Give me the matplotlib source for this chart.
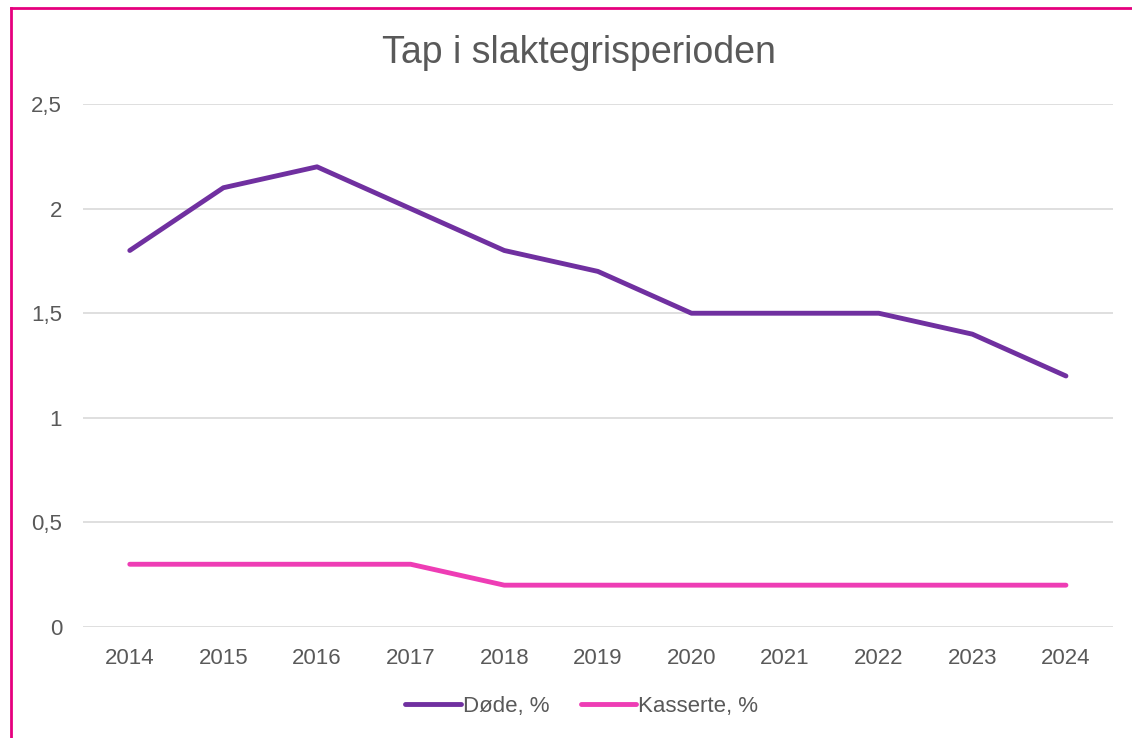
import matplotlib.pyplot as plt
from matplotlib.lines import Line2D

plt.rcParams['font.family'] = ['Liberation Sans', 'DejaVu Sans']

# Data
years = [2014, 2015, 2016, 2017, 2018, 2019, 2020, 2021, 2022, 2023, 2024]
dode = [1.8, 2.1, 2.2, 2.0, 1.8, 1.7, 1.5, 1.5, 1.5, 1.4, 1.2]
kasserte = [0.3, 0.3, 0.3, 0.3, 0.2, 0.2, 0.2, 0.2, 0.2, 0.2, 0.2]
yticks = [0, 0.5, 1, 1.5, 2, 2.5]
ytick_labels = ["0", "0,5", "1", "1,5", "2", "2,5"]

text_col = "#595959"

fig = plt.figure(figsize=(11.32, 7.38), dpi=100)
ax = fig.add_axes([0.0733, 0.1504, 0.9097, 0.7086])

x = list(range(len(years)))
ax.plot(x, dode, color="#7030A0", lw=3.5, label="Døde, %", solid_capstyle="round")
ax.plot(x, kasserte, color="#EE3DB5", lw=3.5, label="Kasserte, %", solid_capstyle="round")

ax.set_xlim(-0.5, len(years) - 0.5)
ax.set_ylim(0, 2.5)
ax.set_xticks(x)
ax.set_xticklabels([str(y) for y in years])
ax.set_yticks(yticks)
ax.set_yticklabels(ytick_labels)
ax.tick_params(axis="both", length=0, labelsize=16, colors=text_col)
ax.tick_params(axis="x", pad=15)
ax.tick_params(axis="y", pad=15)
ax.grid(axis="y", color="#D9D9D9", lw=1.2)
ax.set_axisbelow(True)
for s in ax.spines.values():
    s.set_visible(False)

fig.text(0.511, 0.928, "Tap i slaktegrisperioden", ha="center", va="center",
         fontsize=27, color=text_col)

leg = fig.legend(loc="center", bbox_to_anchor=(0.514, 0.043), ncol=2, frameon=False,
                 fontsize=16, handlelength=2.5, columnspacing=1.4, handletextpad=0.1)
for t in leg.get_texts():
    t.set_color(text_col)

# pink frame (only left and top edges visible)
fig.add_artist(Line2D([11 / 1132, 11 / 1132], [0, 1 - 8 / 738], color="#E6007E",
                      lw=2, transform=fig.transFigure))
fig.add_artist(Line2D([11 / 1132, 1], [1 - 8 / 738, 1 - 8 / 738], color="#E6007E",
                      lw=2, transform=fig.transFigure))

fig.savefig("out.png", dpi=100)
